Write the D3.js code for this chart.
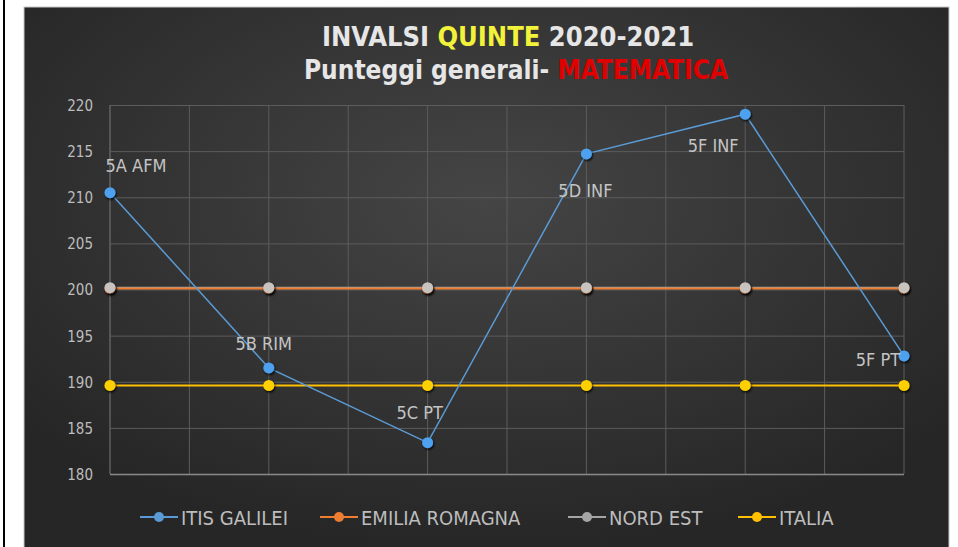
<!DOCTYPE html>
<html>
<head>
<meta charset="utf-8">
<script src="https://cdn.jsdelivr.net/npm/d3@7"></script>
<style>
  body { margin: 0; background: #fff; }
  svg { display: block; }
</style>
</head>
<body>
<svg id="chart" width="958" height="547"></svg>
<script>
//Data
var classi = ["5A AFM", "5B RIM", "5C PT", "5D INF", "5F INF", "5F PT"];
var itisGalilei = [210.5, 191.5, 183.4, 214.7, 219.0, 192.8];
var emiliaRomagna = [200.1, 200.1, 200.1, 200.1, 200.1, 200.1];
var nordEst = [200.2, 200.2, 200.2, 200.2, 200.2, 200.2];
var italia = [189.6, 189.6, 189.6, 189.6, 189.6, 189.6];
var yTicks = [180, 185, 190, 195, 200, 205, 210, 215, 220];
var seriesNames = ["ITIS GALILEI", "EMILIA ROMAGNA", "NORD EST", "ITALIA"];

//Label placement for each class (offset from the point, to the text baseline)
var labelOffsets = [[26, -21], [-5, -18], [-8, -24], [-1, 43], [-32, 38], [-26, 10]];

var colors = {
    "ITIS GALILEI": "#5b9bd5",
    "EMILIA ROMAGNA": "#ed7d31",
    "NORD EST": "#a5a5a5",
    "ITALIA": "#ffc000"
};
var markerFill = {
    "ITIS GALILEI": "#4ea1ee",
    "EMILIA ROMAGNA": "#ed7d31",
    "NORD EST": "#c9c3c0",
    "ITALIA": "#ffd000"
};

var series = [
    {name: "ITIS GALILEI", values: itisGalilei},
    {name: "EMILIA ROMAGNA", values: emiliaRomagna},
    {name: "NORD EST", values: nordEst},
    {name: "ITALIA", values: italia}
];

var font = "'DejaVu Sans Condensed', 'DejaVu Sans', sans-serif";
var svg = d3.select("#chart");
var defs = svg.append("defs");

//Background gradient
var grad = defs.append("radialGradient")
    .attr("id", "bg")
    .attr("cx", "50%").attr("cy", "35%").attr("r", "65%");
grad.append("stop").attr("offset", "0%").attr("stop-color", "#454545");
grad.append("stop").attr("offset", "100%").attr("stop-color", "#262626");

//Marker shadow
var shadow = defs.append("filter").attr("id", "shadow")
    .attr("x", "-50%").attr("y", "-50%").attr("width", "200%").attr("height", "200%");
shadow.append("feDropShadow")
    .attr("dx", 1).attr("dy", 1.5).attr("stdDeviation", 1.2)
    .attr("flood-color", "#000").attr("flood-opacity", 0.9);

//Left black rule of the page
svg.append("rect").attr("x", 3).attr("y", 0).attr("width", 2).attr("height", 547).attr("fill", "#000");

//Chart panel
svg.append("rect")
    .attr("x", 24).attr("y", 7).attr("width", 925).attr("height", 545)
    .attr("fill", "url(#bg)")
    .attr("stroke", "#c8c8c8").attr("stroke-width", 1);

var margin = {left: 110, right: 904, top: 105, bottom: 474};

var xScale = d3.scalePoint()
    .domain(classi)
    .range([margin.left, margin.right]);

var yScale = d3.scaleLinear()
    .domain([180, 220])
    .range([margin.bottom, margin.top]);

//Vertical gridlines at every category and half way between
var step = xScale.step();
var vLines = [];
classi.forEach(function(c, i){
    vLines.push(xScale(c));
    if (i < classi.length - 1) vLines.push(xScale(c) + step / 2);
});
svg.append("g").selectAll("line")
    .data(vLines)
    .enter()
    .append("line")
    .attr("x1", function(d){ return d; })
    .attr("x2", function(d){ return d; })
    .attr("y1", margin.top)
    .attr("y2", margin.bottom)
    .attr("stroke", function(d, i){ return i === 0 ? "#7a7a7a" : "#5c5c5c"; })
    .attr("stroke-width", 1);

//Horizontal gridlines and y axis
var yAxis = d3.axisLeft(yScale)
    .tickValues(yTicks)
    .tickSize(-(margin.right - margin.left))
    .tickPadding(17);
var gy = svg.append("g")
    .attr("transform", "translate(" + margin.left + ",0)")
    .call(yAxis);
gy.select(".domain").remove();
gy.selectAll(".tick line")
    .attr("stroke", function(d){ return d === 180 ? "#8a8a8a" : "#5c5c5c"; })
    .attr("stroke-width", function(d){ return d === 180 ? 1.5 : 1; });
gy.selectAll(".tick text")
    .attr("fill", "#bdbdbd")
    .attr("dy", "0.36em")
    .style("font-family", font)
    .style("font-size", "15px");

//Lines
var line = d3.line()
    .x(function(d, i){ return xScale(classi[i]); })
    .y(function(d){ return yScale(d); });

var lineOrder = [series[2], series[1], series[3], series[0]];
svg.append("g").selectAll("path")
    .data(lineOrder)
    .enter()
    .append("path")
    .attr("d", function(s){ return line(s.values); })
    .attr("fill", "none")
    .attr("stroke", function(s){ return colors[s.name]; })
    .attr("stroke-width", function(s){ return s.name === "ITIS GALILEI" ? 1.5 : 2; });

//Markers
var markerOrder = [series[1], series[2], series[3], series[0]];
markerOrder.forEach(function(s){
    svg.append("g").selectAll("circle")
        .data(s.values)
        .enter()
        .append("circle")
        .attr("cx", function(d, i){ return xScale(classi[i]); })
        .attr("cy", function(d){ return yScale(d); })
        .attr("r", 5.5)
        .attr("fill", markerFill[s.name])
        .attr("filter", "url(#shadow)");
});

//Data labels for ITIS GALILEI
svg.append("g").selectAll("text")
    .data(itisGalilei)
    .enter()
    .append("text")
    .attr("x", function(d, i){ return xScale(classi[i]) + labelOffsets[i][0]; })
    .attr("y", function(d, i){ return yScale(d) + labelOffsets[i][1]; })
    .attr("text-anchor", "middle")
    .attr("fill", "#c4c4c4")
    .style("font-family", font)
    .style("font-size", "18px")
    .text(function(d, i){ return classi[i]; });

//Title
var t1 = svg.append("text")
    .attr("x", 508).attr("y", 46)
    .attr("text-anchor", "middle")
    .style("font-family", font)
    .style("font-size", "27px")
    .style("font-weight", "bold")
    .attr("fill", "#e6e6e6");
t1.append("tspan").text("INVALSI ");
t1.append("tspan").attr("fill", "#f2f23a").text("QUINTE");
t1.append("tspan").text(" 2020-2021");

var t2 = svg.append("text")
    .attr("x", 516).attr("y", 79)
    .attr("text-anchor", "middle")
    .style("font-family", font)
    .style("font-size", "26px")
    .style("font-weight", "bold")
    .attr("fill", "#e6e6e6");
t2.append("tspan").text("Punteggi generali- ");
t2.append("tspan").attr("fill", "#e00000").text("MATEMATICA");

//Legend
var legendX = [140, 320, 568, 738];
var legend = svg.append("g").selectAll("g")
    .data(seriesNames)
    .enter()
    .append("g")
    .attr("transform", function(d, i){ return "translate(" + legendX[i] + ",517)"; });
legend.append("line")
    .attr("x1", 0).attr("x2", 38)
    .attr("stroke", function(d){ return colors[d]; })
    .attr("stroke-width", 2);
legend.append("circle")
    .attr("cx", 19).attr("r", 5)
    .attr("fill", function(d){ return colors[d]; });
legend.append("text")
    .attr("x", 41).attr("y", 7.5)
    .attr("fill", "#bdbdbd")
    .style("font-family", font)
    .style("font-size", "20px")
    .text(function(d){ return d; });
</script>
</body>
</html>
